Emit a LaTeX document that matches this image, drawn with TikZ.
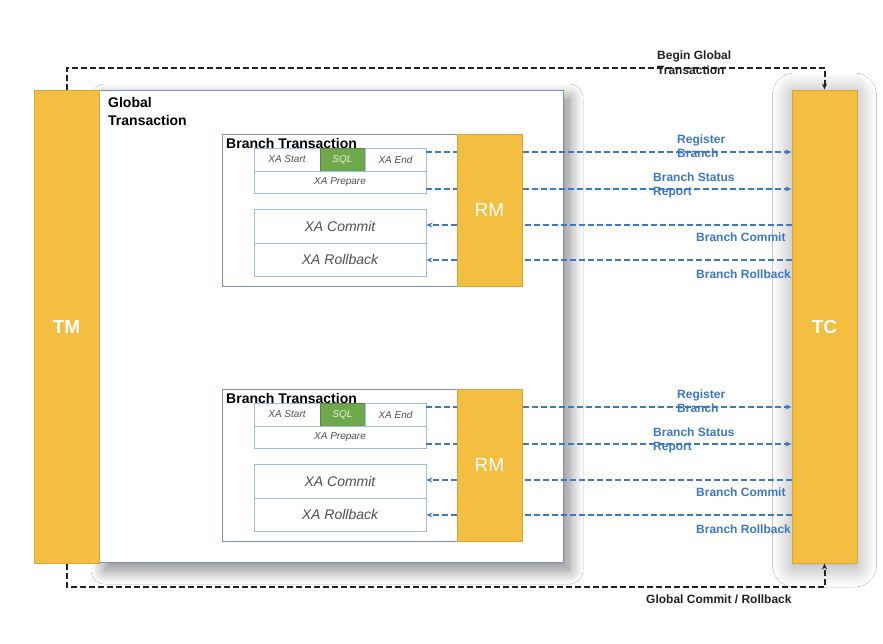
\documentclass[tikz,border=0pt]{standalone}
\usepackage{fontspec}
\setmainfont{Liberation Sans}
\usetikzlibrary{shadows.blur,arrows.meta,calc}
\definecolor{orfill}{HTML}{F4BE41}
\definecolor{ordraw}{HTML}{D6A63A}
\definecolor{gbdraw}{HTML}{7A8FC2}
\definecolor{inbox}{HTML}{9DBCE6}
\definecolor{bluel}{HTML}{3C78C8}
\definecolor{sqlg}{HTML}{6FA84A}
\definecolor{xagray}{HTML}{505050}
\definecolor{darkline}{HTML}{222222}
\begin{document}
\begin{tikzpicture}[x=1pt,y=-1pt,
  orangebox/.style={draw=ordraw,fill=orfill,line width=1pt,inner sep=0pt,text=white,font=\fontsize{19}{22}\selectfont\bfseries},
  rmbox/.style={orangebox,font=\fontsize{19}{22}\selectfont},
  globalbox/.style={draw=gbdraw,fill=white,line width=1pt,inner sep=0pt},
  branchbox/.style={draw=gbdraw,fill=white,line width=0.9pt,inner sep=0pt},
  xasmall/.style={draw=inbox,fill=white,line width=0.9pt,inner sep=0pt,text=xagray,font=\fontsize{10}{12}\selectfont\itshape},
  xabig/.style={draw=inbox,fill=white,line width=0.9pt,inner sep=0pt,text=xagray,font=\fontsize{14}{16}\selectfont\itshape},
  sqlbox/.style={draw=sqlg!80!black,fill=sqlg,line width=0.9pt,inner sep=0pt,text=white!85!sqlg,font=\fontsize{10}{12}\selectfont\itshape},
  titletext/.style={inner sep=0pt,font=\fontsize{14}{18}\selectfont\bfseries,align=left},
  bluelabel/.style={inner sep=0pt,text=bluel,font=\fontsize{12}{14}\selectfont\bfseries,align=left},
  blacklabel/.style={inner sep=0pt,text=darkline,font=\fontsize{12}{15}\selectfont\bfseries,align=left},
  bluedash/.style={draw=bluel,line width=1.9pt,dash pattern=on 6pt off 3pt},
  bluearrow/.style={bluedash,-{Stealth[length=6pt,width=5pt]}},
  blackdash/.style={draw=darkline,line width=2pt,dash pattern=on 6pt off 3pt,-{Stealth[length=6pt,width=5pt]}}
]
\useasboundingbox[fill=white] (0,0) rectangle (883,643);

% global transaction box
\node[globalbox,minimum width=464pt,minimum height=472pt,
  blur shadow={shadow xshift=6pt,shadow yshift=-8pt,shadow blur radius=14pt,shadow blur steps=20,shadow opacity=50}]
  (global) at (331,326) {};
\node[titletext,anchor=north west] (gtitle) at (108,97) {Global\\Transaction};

% TM and TC
\node[orangebox,minimum width=65pt,minimum height=473pt] (tm) at (66.5,326.5) {TM};
\node[minimum width=60pt,minimum height=470pt,inner sep=0pt,
  blur shadow={shadow xshift=0pt,shadow yshift=0pt,shadow blur radius=22pt,shadow blur steps=25,shadow opacity=40}]
  (tcshadow) at (824.5,330) {};
\node[orangebox,minimum width=65pt,minimum height=473pt] (tc2) at (824.5,326.5) {TC};

% branches
\foreach \i/\dy in {1/0,2/255}{
  \node[branchbox,minimum width=235pt,minimum height=152pt] (br\i) at (339.5,210+\dy) {};
  \node[rmbox,minimum width=65pt,minimum height=152pt] (rm\i) at (489.5,210+\dy) {RM};
  \node[titletext,anchor=base west] (brt\i) at (226,148+\dy) {Branch Transaction};
  \node[xasmall,minimum width=66pt,minimum height=23pt] (xs\i) at (287,159.5+\dy) {XA Start};
  \node[sqlbox,minimum width=45pt,minimum height=23pt] (sql\i) at (342.5,159.5+\dy) {SQL};
  \node[xasmall,minimum width=61pt,minimum height=23pt] (xe\i) at (395.5,159.5+\dy) {XA End};
  \node[xasmall,minimum width=172pt,minimum height=22pt] (xp\i) at (340,182+\dy) {XA Prepare};
  \node[xabig,minimum width=172pt,minimum height=34pt] (xc\i) at (340,226+\dy) {XA Commit};
  \node[xabig,minimum width=172pt,minimum height=33pt] (xr\i) at (340,259.5+\dy) {XA Rollback};
  % outgoing
  \draw[bluedash] ([yshift=7.5pt]xe\i.east) coordinate (a\i) -- (a\i -| rm\i.west);
  \draw[bluearrow] (a\i -| rm\i.east) -- (a\i -| tc2.west);
  \draw[bluedash] ([yshift=-7pt]xp\i.east) coordinate (b\i) -- (b\i -| rm\i.west);
  \draw[bluearrow] (b\i -| rm\i.east) -- (b\i -| tc2.west);
  % incoming
  \draw[bluedash] ([yshift=1pt]xc\i.east -| tc2.west) coordinate (c\i) -- (c\i -| rm\i.east);
  \draw[bluearrow] (c\i -| rm\i.west) -- (c\i -| xc\i.east);
  \draw[bluedash] ([yshift=-0.5pt]xr\i.east -| tc2.west) coordinate (d\i) -- (d\i -| rm\i.east);
  \draw[bluearrow] (d\i -| rm\i.west) -- (d\i -| xr\i.east);
  % labels
  \node[bluelabel,anchor=west] (reg\i) at (677,146+\dy) {Register\\Branch};
  \node[bluelabel,anchor=west] (rep\i) at (653,185+\dy) {Branch Status\\Report};
  \node[bluelabel,anchor=west] (com\i) at (696,237+\dy) {Branch Commit};
  \node[bluelabel,anchor=west] (rol\i) at (696,274+\dy) {Branch Rollback};
}

% global begin / end
\draw[blackdash] (tm.north) -- ++(0,-22) -| (tc2.north);
\node[blacklabel,anchor=west] (beginlbl) at (657,63) {Begin Global\\Transaction};
\draw[blackdash] (tm.south) -- ++(0,23) -| (tc2.south);
\node[blacklabel,anchor=west] (endlbl) at (646,599) {Global Commit / Rollback};
\end{tikzpicture}
\end{document}
